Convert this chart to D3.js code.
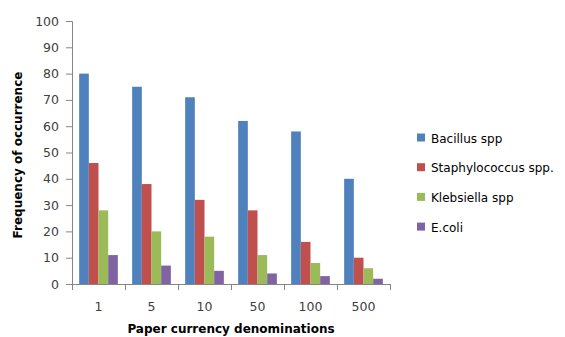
<!DOCTYPE html>
<html>
<head>
<meta charset="utf-8">
<script src="https://cdn.jsdelivr.net/npm/d3@7"></script>
<style>
  html, body { margin: 0; padding: 0; background: #fff; }
  svg { display: block; font-family: "DejaVu Sans", Verdana, sans-serif; }
</style>
</head>
<body>
<svg id="chart" width="565" height="337"></svg>
<script>
// Denominations and bacterial counts per series
const denominations = ["1", "5", "10", "50", "100", "500"];
const seriesNames = ["Bacillus spp", "Staphylococcus spp.", "Klebsiella spp", "E.coli"];
const bacillus = [80, 75, 71, 62, 58, 40];
const staphylococcus = [46, 38, 32, 28, 16, 10];
const klebsiella = [28, 20, 18, 11, 8, 6];
const ecoli = [11, 7, 5, 4, 3, 2];
const yTicks = [0, 10, 20, 30, 40, 50, 60, 70, 80, 90, 100];
const colors = ["#4F81BD", "#C0504D", "#9BBB59", "#8064A2"];

const seriesValues = [bacillus, staphylococcus, klebsiella, ecoli];

const svg = d3.select("#chart");
const plot = { left: 72, right: 390, top: 21, bottom: 284 };
const axisColor = "#868686";

const x = d3.scaleBand()
  .domain(denominations)
  .range([plot.left, plot.right])
  .paddingInner(0.27)
  .paddingOuter(0.135);

const xSeries = d3.scaleBand()
  .domain(seriesNames)
  .range([0, x.bandwidth()]);

const y = d3.scaleLinear()
  .domain([0, 100])
  .range([plot.bottom, plot.top]);

// Bars
const groups = svg.append("g")
  .selectAll("g")
  .data(denominations)
  .join("g")
  .attr("transform", d => `translate(${x(d)},0)`);

groups.selectAll("rect")
  .data((d, i) => seriesNames.map((s, j) => ({ s, j, v: seriesValues[j][i] })))
  .join("rect")
  .attr("x", d => xSeries(d.s))
  .attr("y", d => y(d.v))
  .attr("width", xSeries.bandwidth())
  .attr("height", d => y(0) - y(d.v))
  .attr("fill", d => colors[d.j]);

// Y axis
const yAxis = svg.append("g")
  .attr("transform", `translate(${plot.left},0)`)
  .call(d3.axisLeft(y).tickValues(yTicks).tickSize(6).tickPadding(7).tickFormat(d3.format("d")));
yAxis.select(".domain").attr("stroke", axisColor);
yAxis.selectAll(".tick line").attr("stroke", axisColor);
yAxis.selectAll(".tick text")
  .attr("fill", "#404040")
  .style("font-size", "12.5px")
  .style("font-family", "DejaVu Sans, Verdana, sans-serif");

// X axis: ticks at category boundaries
const boundaries = d3.range(denominations.length + 1).map(i => plot.left + i * (plot.right - plot.left) / denominations.length);
const xAxisG = svg.append("g");
xAxisG.append("line")
  .attr("x1", plot.left).attr("x2", plot.right)
  .attr("y1", plot.bottom + 0.5).attr("y2", plot.bottom + 0.5)
  .attr("stroke", axisColor);
xAxisG.selectAll("line.tk")
  .data(boundaries)
  .join("line")
  .attr("class", "tk")
  .attr("x1", d => Math.round(d) + 0.5).attr("x2", d => Math.round(d) + 0.5)
  .attr("y1", plot.bottom).attr("y2", plot.bottom + 6)
  .attr("stroke", axisColor);
xAxisG.selectAll("text")
  .data(denominations)
  .join("text")
  .attr("x", d => x(d) + x.bandwidth() / 2)
  .attr("y", 311)
  .attr("text-anchor", "middle")
  .attr("fill", "#404040")
  .style("font-size", "12.5px")
  .text(d => d);

// Axis titles
svg.append("text")
  .attr("x", 231)
  .attr("y", 333)
  .attr("text-anchor", "middle")
  .attr("font-weight", "bold")
  .attr("fill", "#000")
  .style("font-size", "12px")
  .text("Paper currency denominations");

svg.append("text")
  .attr("transform", "translate(22,155) rotate(-90)")
  .attr("text-anchor", "middle")
  .attr("font-weight", "bold")
  .attr("fill", "#000")
  .style("font-size", "12px")
  .text("Frequency of occurrence");

// Legend
const legend = svg.append("g")
  .selectAll("g")
  .data(seriesNames)
  .join("g")
  .attr("transform", (d, i) => `translate(417,${138 + i * 29.7})`);
legend.append("rect")
  .attr("x", 0).attr("y", -4.5)
  .attr("width", 8).attr("height", 8)
  .attr("fill", (d, i) => colors[i]);
legend.append("text")
  .attr("x", 14)
  .attr("y", 4.5)
  .attr("fill", "#000")
  .style("font-size", "12px")
  .text(d => d);
</script>
</body>
</html>
